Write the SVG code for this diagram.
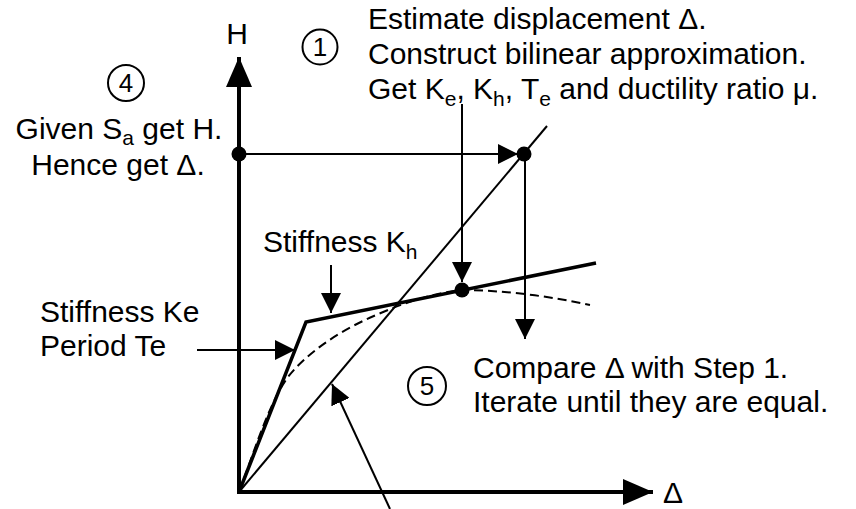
<svg xmlns="http://www.w3.org/2000/svg" width="856" height="509" viewBox="0 0 856 509">
<defs>
<style>
text{font-family:"Liberation Sans",Arial,sans-serif;font-size:30px;fill:#000}
.num{font-size:26px;text-anchor:middle}
.circ{fill:none;stroke:#000;stroke-width:2}
.ax{stroke:#000;stroke-width:4;fill:none}
.thin{stroke:#000;stroke-width:2;fill:none}
.bil{stroke:#000;stroke-width:3.5;fill:none;stroke-linejoin:miter}
.dash{stroke:#000;stroke-width:2;fill:none;stroke-dasharray:9,5}
.sub{font-size:21px}
</style>
<marker id="axh" markerUnits="userSpaceOnUse" markerWidth="30" markerHeight="26" refX="30" refY="13" orient="auto">
<path d="M0,0 L30,13 L0,26 z" fill="#000"/>
</marker>
<marker id="ah" markerUnits="userSpaceOnUse" markerWidth="20" markerHeight="20" refX="20" refY="10" orient="auto">
<path d="M0,0 L20,10 L0,20 z" fill="#000"/>
</marker>
</defs>
<rect width="856" height="509" fill="#fff"/>

<g id="axes">
<line class="ax" x1="239" y1="494" x2="239" y2="57" marker-end="url(#axh)"/>
<line class="ax" x1="237" y1="492" x2="653" y2="492" marker-end="url(#axh)"/>
<text x="237" y="44" text-anchor="middle">H</text>
<text x="663" y="503">Δ</text>
</g>

<g id="curves">
<path class="dash" d="M239,492 C255,450 268,405 288,377 C305,355 335,334 365,320 C395,306 430,293 462,290 C500,290 550,296 590,305"/>
<polyline class="bil" points="239,492 306,322 596,263"/>
<line class="thin" x1="239" y1="492" x2="547" y2="126"/>
</g>

<g id="connectors">
<line class="thin" x1="239" y1="154" x2="518" y2="154" marker-end="url(#ah)"/>
<line class="thin" x1="462" y1="104" x2="462" y2="282" marker-end="url(#ah)"/>
<line class="thin" x1="525" y1="154" x2="525" y2="339" marker-end="url(#ah)"/>
<line class="thin" x1="331" y1="265" x2="331" y2="313" marker-end="url(#ah)"/>
<line class="thin" x1="197" y1="350" x2="295" y2="350" marker-end="url(#ah)"/>
<line class="thin" x1="390" y1="509" x2="332" y2="384" marker-end="url(#ah)"/>
</g>

<g id="points">
<circle cx="239" cy="154" r="7.5" fill="#000"/>
<circle cx="524" cy="154" r="7.5" fill="#000"/>
<circle cx="462" cy="290" r="7.5" fill="#000"/>
</g>

<g id="step1">
<circle class="circ" cx="320" cy="47" r="17.5"/>
<text class="num" x="320" y="56">1</text>
<text x="368" y="29">Estimate displacement Δ.</text>
<text x="368" y="64">Construct bilinear approximation.</text>
<text x="368" y="99">Get K<tspan class="sub" dy="7">e</tspan><tspan dy="-7">, K</tspan><tspan class="sub" dy="7">h</tspan><tspan dy="-7">, T</tspan><tspan class="sub" dy="7">e</tspan><tspan dy="-7"> and ductility ratio μ.</tspan></text>
</g>

<g id="step4">
<circle class="circ" cx="126" cy="83" r="18"/>
<text class="num" x="126" y="92">4</text>
<text x="119" y="139" text-anchor="middle">Given S<tspan class="sub" dy="6">a</tspan><tspan dy="-6"> get H.</tspan></text>
<text x="118" y="175" text-anchor="middle">Hence get Δ.</text>
</g>

<g id="kh-label">
<text x="263" y="252">Stiffness K<tspan class="sub" dy="7">h</tspan></text>
</g>

<g id="ke-label">
<text x="40" y="322">Stiffness Ke</text>
<text x="40" y="356">Period Te</text>
</g>

<g id="step5">
<circle class="circ" cx="427" cy="386" r="19"/>
<text class="num" x="427" y="395">5</text>
<text x="473" y="378">Compare Δ with Step 1.</text>
<text x="473" y="412">Iterate until they are equal.</text>
</g>
</svg>
